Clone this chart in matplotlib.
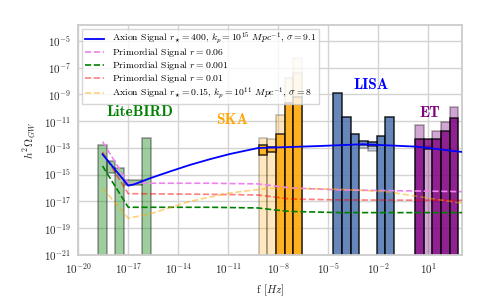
import numpy as np
import matplotlib
matplotlib.use("Agg")
import matplotlib.pyplot as plt

plt.rcParams['font.family'] = 'serif'
plt.rcParams['font.serif'] = ['cmr10']
plt.rcParams['mathtext.fontset'] = 'cm'
plt.rcParams['axes.formatter.use_mathtext'] = True
plt.rcParams['axes.unicode_minus'] = False

# ---- data (log10 values) ----
FLOOR = -30

# LiteBIRD: bars from the floor, and floating boxes
lb_left = [-18.84, -17.78, -16.20]
lb_right = [-18.26, -17.24, -15.66]
lb_top = [-12.78, -14.51, -12.28]
lb_box_left = [-18.26, -17.22]
lb_box_right = [-17.78, -16.20]
lb_box_lo = [-14.90, -15.80]
lb_box_hi = [-13.96, -15.40]

# SKA
ska_edges = [-9.176, -8.66, -8.14, -7.616, -7.10, -6.578]
ska_light = [-12.28, -12.36, -10.54, -7.79, -7.37]
ska_lighter = [np.nan, np.nan, np.nan, np.nan, -6.24]
ska_dark = [np.nan, np.nan, -11.98, -9.61, -9.21]
ska_box_lo = [-13.51, -13.33, np.nan, np.nan, np.nan]
ska_box_hi = [-12.81, -12.91, np.nan, np.nan, np.nan]

# LISA
lisa_edges = [-4.70, -4.178, -3.656, -3.14, -2.618, -2.096, -1.58, -1.058]
lisa_dark = [-8.91, -10.66, -11.98, np.nan, np.nan, -12.09, -10.71]
lisa_box_lo = [np.nan, np.nan, np.nan, -13.03, -13.23, np.nan, np.nan]
lisa_box_mid = [np.nan, np.nan, np.nan, -12.78, -12.86, np.nan, np.nan]
lisa_box_hi = [np.nan, np.nan, np.nan, -12.48, -12.58, np.nan, np.nan]

# ET
et_edges = [0.202, 0.742, 1.24, 1.762, 2.284, 2.80]
et_light = [-11.28, -12.86, -11.71, -11.04, -9.93]
et_dark = [-12.36, np.nan, -12.36, -11.73, -10.78]
et_box_lo = [np.nan, -13.10, np.nan, np.nan, np.nan]
et_box_hi = [np.nan, -12.36, np.nan, np.nan, np.nan]

# signal curves
axion1_f = [-18.54, -17.0, -16.66, -15.70, -14.50, -13.30, -12.10, -10.90, -9.20, -7.12, -5.50, -2.92, 0.32, 3.06]
axion1_o = [-13.48, -15.83, -15.74, -15.28, -14.77, -14.28, -13.85, -13.46, -13.01, -12.93, -12.86, -12.73, -12.91, -13.31]

prim_f = [-18.54, -17.0, -12.10, -9.22, -8.20, -7.30, -4.30, 3.06]
prim06 = [-12.54, -15.65, -15.65, -15.70, -15.85, -16.00, -16.15, -16.28]
prim001 = [-14.36, -17.45, -17.45, -17.50, -17.65, -17.76, -17.85, -17.85]
prim01 = [-13.31, -16.43, -16.48, -16.53, -16.68, -16.83, -16.90, -16.93]

axion2_f = [-18.54, -17.0, -15.70, -13.30, -10.90, -8.62, -6.70, -4.30, -1.50, 1.10, 3.06]
axion2_o = [-16.0, -18.27, -17.95, -17.01, -16.38, -16.03, -16.04, -16.10, -16.28, -16.78, -17.15]

# experiment labels: name, log10 f, log10 Omega, colour
names = ['LiteBIRD', 'SKA', 'LISA', 'ET']
name_f = [-16.3, -10.75, -2.44, 1.10]
name_o = [-10.35, -10.91, -8.29, -10.39]
name_c = ['green', 'orange', 'blue', 'purple']


def bars(ax, left, right, lo, hi, color, alpha):
    left, right = np.asarray(left, float), np.asarray(right, float)
    lo, hi = np.asarray(lo, float), np.asarray(hi, float)
    ok = ~np.isnan(hi) & ~np.isnan(lo)
    x0 = 10 ** left[ok]
    w = 10 ** right[ok] - x0
    b = 10 ** lo[ok]
    h = 10 ** hi[ok] - b
    ax.bar(x0, h, width=w, bottom=b, align='edge', color=color, alpha=alpha,
           edgecolor='black', linewidth=1.1, zorder=2)


fig = plt.figure(figsize=(4.92, 3.05), dpi=100)
ax = fig.add_axes([0.159, 0.165, 0.781, 0.753])
ax.set_xscale('log')
ax.set_yscale('log')

# LiteBIRD
bars(ax, lb_left, lb_right, [FLOOR] * 3, lb_top, 'green', 0.38)
bars(ax, lb_box_left, lb_box_right, lb_box_lo, lb_box_hi, 'green', 0.38)

# SKA
e = np.array(ska_edges)
bars(ax, e[:-1], e[1:], [FLOOR] * 5, ska_light, 'orange', 0.25)
bars(ax, e[:-1], e[1:], [FLOOR] * 5, ska_lighter, 'orange', 0.15)
bars(ax, e[:-1], e[1:], [FLOOR] * 5, ska_dark, 'orange', 0.8)
bars(ax, e[:-1], e[1:], ska_box_lo, ska_box_hi, 'orange', 0.8)

# LISA
e = np.array(lisa_edges)
bars(ax, e[:-1], e[1:], [FLOOR] * 7, lisa_dark, '#4c72b0', 0.85)
bars(ax, e[:-1], e[1:], lisa_box_lo, lisa_box_hi, '#4c72b0', 0.3)
bars(ax, e[:-1], e[1:], lisa_box_mid, lisa_box_hi, '#4c72b0', 0.7)

# ET
e = np.array(et_edges)
bars(ax, e[:-1], e[1:], [FLOOR] * 5, et_light, 'purple', 0.35)
bars(ax, e[:-1], e[1:], [FLOOR] * 5, et_dark, 'purple', 0.8)
bars(ax, e[:-1], e[1:], et_box_lo, et_box_hi, 'purple', 0.8)

# curves
p = lambda v: 10 ** np.asarray(v, float)
ax.plot(p(axion1_f), p(axion1_o), color='blue', lw=1.3, zorder=4,
        label=r'Axion Signal $r_{\star}=400$, $k_p=10^{15}$ $Mpc^{-1}$, $\sigma=9.1$')
ax.plot(p(prim_f), p(prim06), '--', color='violet', lw=1.2, zorder=3,
        label=r'Primordial Signal $r=0.06$')
ax.plot(p(prim_f), p(prim001), '--', color='green', lw=1.2, zorder=3,
        label=r'Primordial Signal $r=0.001$')
ax.plot(p(prim_f), p(prim01), '--', color='red', alpha=0.5, lw=1.2, zorder=3,
        label=r'Primordial Signal $r=0.01$')
ax.plot(p(axion2_f), p(axion2_o), '--', color='orange', alpha=0.5, lw=1.2, zorder=3,
        label=r'Axion Signal $r_{\star}=0.15$, $k_p=10^{11}$ $Mpc^{-1}$, $\sigma=8$')

for n, fx, oy, c in zip(names, name_f, name_o, name_c):
    ax.text(10 ** fx, 10 ** oy, n, color=c, fontsize=11, fontfamily='cmb10',
            ha='center', va='center', zorder=5)

ax.set_xlim(1e-20, 10 ** 3.06)
ax.set_ylim(1e-21, 10 ** -3.8)
ax.set_xticks([10.0 ** k for k in range(-20, 2, 3)])
ax.set_yticks([10.0 ** k for k in range(-21, -4, 2)])
ax.minorticks_off()
ax.tick_params(length=0, labelsize=8, colors='#262626', pad=5)
ax.grid(True, color='#d4d4d4', lw=1.0, zorder=0)
ax.set_axisbelow(True)
for s in ax.spines.values():
    s.set_color('#cccccc')
    s.set_linewidth(1.3)

ax.set_xlabel(r'f $[Hz]$', fontsize=8, color='#262626')
ax.set_ylabel(r'$h^2\Omega_{GW}$', fontsize=8, color='#262626')

leg = ax.legend(loc='upper left', fontsize=7.0, labelspacing=0.0, borderpad=0.25,
                handleheight=0.5, fancybox=False, edgecolor='#cccccc',
                framealpha=0.8, borderaxespad=0.4)
leg.get_frame().set_linewidth(1.0)

fig.savefig('out.png', dpi=100)
